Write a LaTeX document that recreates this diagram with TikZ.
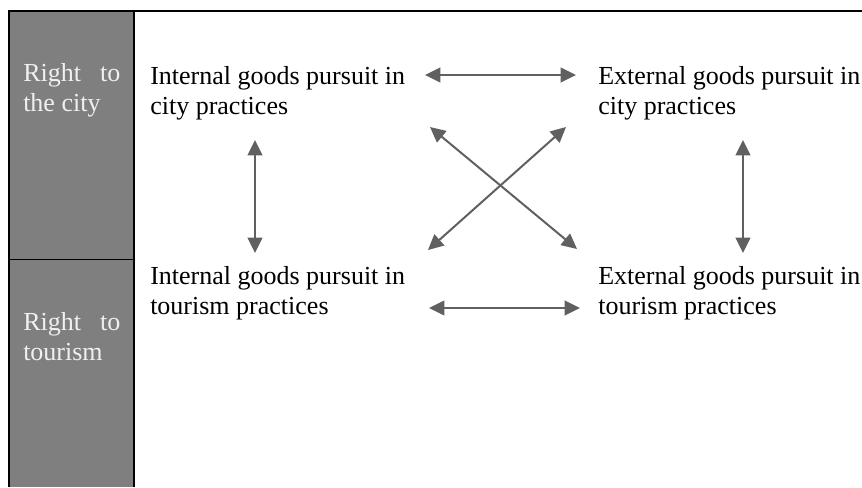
\documentclass[tikz,border=0pt]{standalone}
\usepackage{fontspec}
\setmainfont{Liberation Serif}
\usetikzlibrary{arrows.meta}

\definecolor{colgray}{HTML}{7F7F7F}
\definecolor{arrowgray}{HTML}{606060}

\begin{document}
\begin{tikzpicture}[x=0.75pt, y=-0.75pt,
    txt/.style={font=\fontsize{19.5}{22.5}\selectfont, inner sep=0pt, anchor=base west, align=left},
    side/.style={txt, text=white!94!black},
    dbl/.style={{Triangle[length=11.5pt,width=11pt]}-{Triangle[length=11.5pt,width=11pt]}, draw=arrowgray, line width=1.5pt}]

  \useasboundingbox (0,0) rectangle (862,487);

  % grey column and frame
  \fill[colgray] (9,11) rectangle (134,487);
  \draw[line width=1.5pt] (9,487) -- (9,11) -- (862,11);
  \draw[line width=1.5pt] (134,11) -- (134,487);
  \draw[line width=0.75pt] (9,259) -- (134,259);

  % row labels (base = last line)
  \node[side] (rcity) at (23,111) {\makebox[72.75pt][s]{Right to}\\the city};
  \node[side] (rtour) at (23,360) {\makebox[72.75pt][s]{Right to}\\tourism};

  % the four goods
  \node[txt] (intcity) at (150,114) {Internal goods pursuit in\\city practices};
  \node[txt] (extcity) at (598,114) {External goods pursuit in\\city practices};
  \node[txt] (inttour) at (150,314) {Internal goods pursuit in\\tourism practices};
  \node[txt] (exttour) at (598,314) {External goods pursuit in\\tourism practices};

  % arrow ends
  \coordinate (icR) at (425,75);
  \coordinate (ecL) at (576,75);
  \coordinate (itR) at (429,308);
  \coordinate (etL) at (580,308);
  \coordinate (icB) at (255,140);
  \coordinate (itT) at (255,253);
  \coordinate (ecB) at (743,140);
  \coordinate (etT) at (743,253);
  \coordinate (icD) at (430,127);
  \coordinate (etD) at (577,249);
  \coordinate (ecD) at (566,127);
  \coordinate (itD) at (428,250);

  \foreach \a/\b in {icR/ecL, itR/etL, icB/itT, ecB/etT, icD/etD, ecD/itD}
    \draw[dbl] (\a) -- (\b);

\end{tikzpicture}
\end{document}
